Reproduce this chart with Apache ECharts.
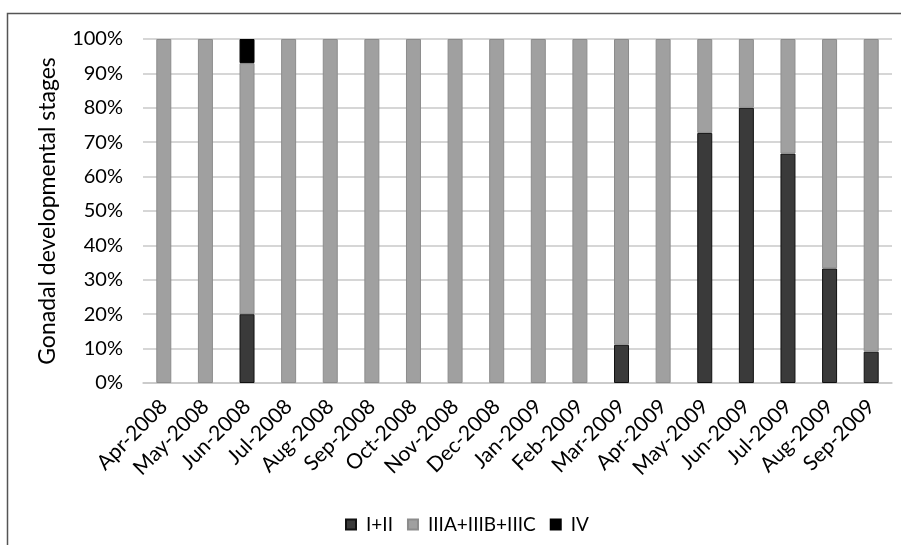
<!DOCTYPE html>
<html>
<head>
<meta charset="utf-8">
<script src="https://cdn.jsdelivr.net/npm/echarts@6/dist/echarts.min.js"></script>
<style>
  html, body { margin: 0; padding: 0; background: #fff; }
  #chart { width: 901px; height: 545px; }
</style>
</head>
<body>
<div id="chart"></div>
<script>
const months = ['Apr-2008', 'May-2008', 'Jun-2008', 'Jul-2008', 'Aug-2008', 'Sep-2008',
  'Oct-2008', 'Nov-2008', 'Dec-2008', 'Jan-2009', 'Feb-2009', 'Mar-2009',
  'Apr-2009', 'May-2009', 'Jun-2009', 'Jul-2009', 'Aug-2009', 'Sep-2009']
const stageI = [0, 0, 20, 0, 0, 0, 0, 0, 0, 0, 0, 11.1, 0, 72.7, 80, 66.7, 33.3, 9.1]
const stageIII = [100, 100, 73, 100, 100, 100, 100, 100, 100, 100, 100, 88.9, 100, 27.3, 20, 33.3, 66.7, 90.9]
const stageIV = [0, 0, 7, 0, 0, 0, 0, 0, 0, 0, 0, 0, 0, 0, 0, 0, 0, 0]

// zero segments would still draw their border, so leave them empty
const noZero = arr => arr.map(v => (v === 0 ? null : v))

const font = 'Lato'
const chart = echarts.init(document.getElementById('chart'))

chart.setOption({
  animation: false,
  textStyle: { fontFamily: font, color: '#000' },
  graphic: [
    {
      type: 'rect',
      shape: { x: 7.5, y: 13.5, width: 1000, height: 1000 },
      style: { fill: 'none', stroke: '#555', lineWidth: 1.5 }
    }
  ],
  grid: { left: 143, right: 9, top: 39, bottom: 162 },
  legend: {
    top: 510,
    left: 340,
    itemWidth: 10,
    itemHeight: 10,
    itemGap: 14,
    icon: 'rect',
    textStyle: { fontFamily: font, fontSize: 19, color: '#000', padding: [0, 0, 0, 5] },
    data: ['I+II', 'IIIA+IIIB+IIIC', 'IV']
  },
  xAxis: {
    type: 'category',
    data: months,
    axisTick: { show: false },
    axisLine: { lineStyle: { color: '#c8c8c8', width: 1.5 } },
    axisLabel: { rotate: 45, fontSize: 21, margin: 20, color: '#000', interval: 0 }
  },
  yAxis: {
    type: 'value',
    min: 0,
    max: 100,
    interval: 10,
    name: 'Gonadal developmental stages',
    nameLocation: 'middle',
    nameGap: 84,
    nameTextStyle: { fontFamily: font, fontSize: 23, color: '#000' },
    axisLine: { show: false },
    axisTick: { show: false },
    axisLabel: { formatter: '{value}%', fontSize: 20, margin: 20, color: '#000' },
    splitLine: { lineStyle: { color: '#c8c8c8', width: 1.5 } }
  },
  series: [
    {
      name: 'I+II',
      type: 'bar',
      stack: 'all',
      barWidth: 15,
      data: noZero(stageI),
      itemStyle: { color: '#3a3a3a', borderColor: '#111', borderWidth: 1 }
    },
    {
      name: 'IIIA+IIIB+IIIC',
      type: 'bar',
      stack: 'all',
      barWidth: 15,
      data: noZero(stageIII),
      itemStyle: { color: '#a0a0a0', borderColor: '#8c8c8c', borderWidth: 1 }
    },
    {
      name: 'IV',
      type: 'bar',
      stack: 'all',
      barWidth: 15,
      data: noZero(stageIV),
      itemStyle: { color: '#000', borderColor: '#000', borderWidth: 1 }
    }
  ]
})
</script>
</body>
</html>
